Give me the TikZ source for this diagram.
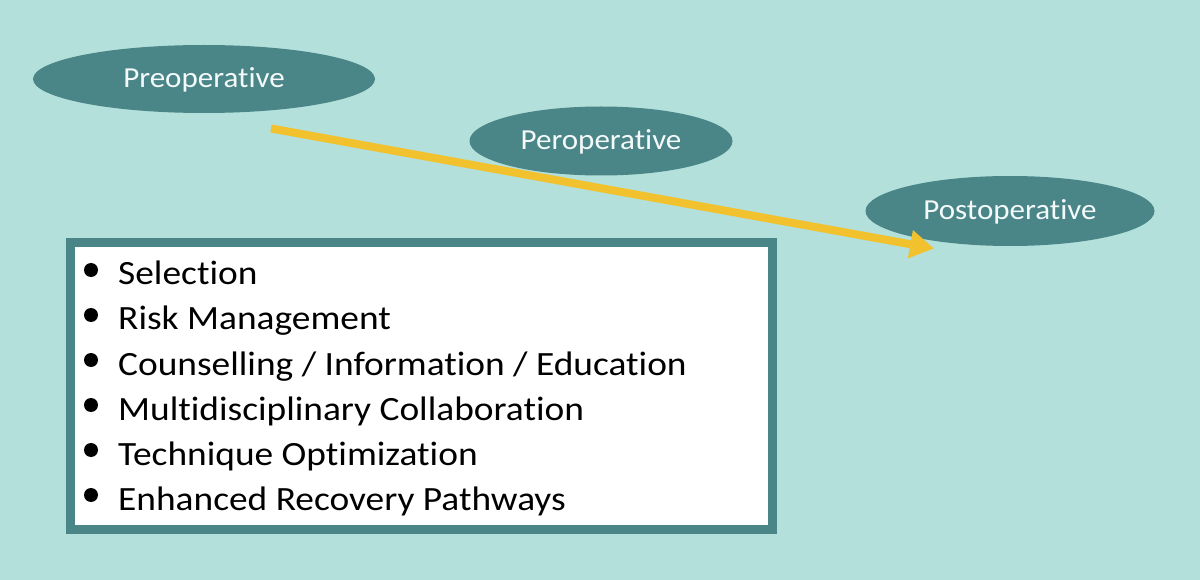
\documentclass[tikz,border=0pt]{standalone}
\usepackage{fontspec}
\setmainfont{Carlito}[Ligatures=NoCommon]
\usetikzlibrary{shapes.geometric,arrows.meta}
\definecolor{bgteal}{HTML}{B4E0DB}
\definecolor{darkteal}{HTML}{4A8588}
\definecolor{arrowyellow}{HTML}{F2C12E}
\definecolor{lighttext}{HTML}{F4FAFA}
\tikzset{
  phase/.style={ellipse, fill=darkteal, draw=none, inner sep=0pt,
    text=lighttext, text height=18pt, text depth=0pt,
    font=\fontsize{29}{34}\selectfont},
  itemtext/.style={anchor=base west, inner sep=0pt, text=black,
    font=\fontsize{34}{40}\selectfont},
  bulletdot/.style={circle, fill=black, inner sep=0pt, minimum size=14pt},
  listbox/.style={draw=darkteal, line width=9pt, fill=white},
  flowarrow/.style={draw=arrowyellow, line width=8pt,
    -{Triangle[length=24pt,width=27pt]}}
}
\newcommand{\hx}[1]{\scalebox{1.1}[1]{#1}}
\newcommand{\ex}[1]{\scalebox{1.07}[1]{#1}}
\begin{document}
\begin{tikzpicture}[x=1pt,y=-1pt]
\fill[bgteal] (0,0) rectangle (1200,580);
\useasboundingbox (0,0) rectangle (1200,580);

\node[phase, minimum width=342pt, minimum height=68pt] (pre) at (204,79) {\ex{Preoperative}};
\node[phase, minimum width=263pt, minimum height=69pt] (per) at (601,141) {\ex{Peroperative}};
\node[phase, minimum width=289pt, minimum height=70pt] (post) at (1010,211) {\ex{Postoperative}};

\coordinate (astart) at (271,128.5);
\coordinate (aend) at (934,248.5);
\draw[flowarrow] (astart) -- (aend);

\draw[listbox] (70.5,243) rectangle (772.5,529);
\node[draw=none, inner sep=0pt] (box) at (421.5,386) {};

\foreach \n/\t [count=\i from 0] in {
  s1/{Selection},
  s2/{Risk Management},
  s3/{Counselling / Information / Education},
  s4/{Multidisciplinary Collaboration},
  s5/{Technique Optimization},
  s6/{Enhanced Recovery Pathways}}{
  \pgfmathsetmacro{\yb}{285+45*\i}
  \node[bulletdot] (b\n) at (91,\yb-15) {};
  \node[itemtext] (\n) at (118,\yb) {\hx{\t}};
}
\end{tikzpicture}
\end{document}
